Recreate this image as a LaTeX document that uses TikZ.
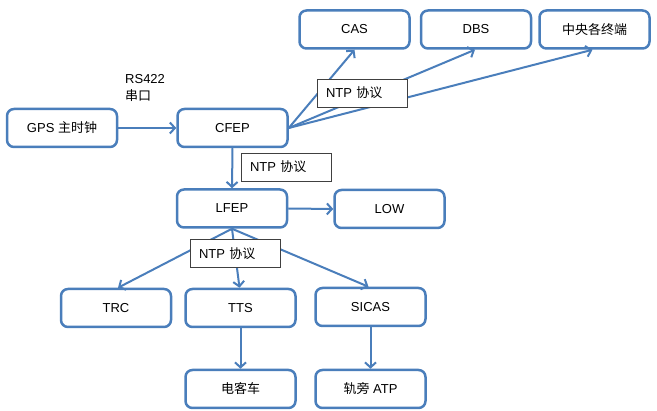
\documentclass[tikz,border=0pt]{standalone}
\usepackage{fontspec}
\setmainfont{Liberation Sans}
\newfontfamily\cjk{Noto Sans CJK SC}
\usetikzlibrary{arrows.meta}
\definecolor{bl}{HTML}{4A7EBB}
\begin{document}
\begin{tikzpicture}[x=1pt,y=-1pt,
  box/.style={draw=bl, line width=2.5pt, rounded corners=7pt, minimum width=110pt, minimum height=38pt, fill=white, inner sep=0pt, font=\fontsize{13}{15}\selectfont},
  lab/.style={draw=black!75, line width=0.9pt, fill=white, minimum height=28pt, text width=72pt, align=left, inner xsep=9pt, inner ysep=0pt, font=\fontsize{13}{15}\selectfont},
  arr/.style={draw=bl, line width=2pt, -{Straight Barb[length=5pt,width=11pt,line width=2pt]}}]
\useasboundingbox (0,0) rectangle (657,411);
% nodes
\node[box] (gps) at (62,128) {GPS {\cjk 主时钟}};
\node[box] (cfep) at (232.5,128) {CFEP};
\node[box] (cas) at (354.5,29.5) {CAS};
\node[box] (dbs) at (476,29.5) {DBS};
\node[box] (zy) at (594.5,29.5) {\cjk 中央各终端};
\node[box] (lfep) at (232,208.5) {LFEP};
\node[box] (low) at (389.5,209) {LOW};
\node[box] (trc) at (116,308) {TRC};
\node[box] (tts) at (240.5,308) {TTS};
\node[box] (sicas) at (370.5,307) {SICAS};
\node[box] (dkc) at (240.5,389) {\cjk 电客车};
\node[box] (atp) at (370.5,389) {{\cjk 轨旁} ATP};
\node[anchor=west, align=left, inner sep=0pt, font=\fontsize{13}{17}\selectfont] (rs) at (125,88) {RS422\\{\cjk 串口}};
% connectors
\draw[arr] (gps.east) -- (cfep.west);
\draw[arr] (cfep.east) -- (cas.south);
\draw[arr] (cfep.east) -- ([xshift=-1pt]dbs.south);
\draw[arr] (cfep.east) -- ([xshift=-2pt]zy.south);
\draw[arr] (cfep.south) -- (lfep.north);
\draw[arr] (lfep.east) -- (low.west);
\draw[arr] (lfep.south) -- ([xshift=2pt]trc.north);
\draw[arr] (lfep.south) -- ([xshift=-1pt]tts.north);
\draw[arr] (lfep.south) -- ([xshift=-2pt]sicas.north);
\draw[arr] (tts.south) -- (dkc.north);
\draw[arr] (sicas.south) -- (atp.north);
% labels
\node[lab] (l1) at (362,93) {NTP {\cjk 协议}};
\node[lab] (l2) at (286,167) {NTP {\cjk 协议}};
\node[lab] (l3) at (235,253.5) {NTP {\cjk 协议}};
\end{tikzpicture}
\end{document}
